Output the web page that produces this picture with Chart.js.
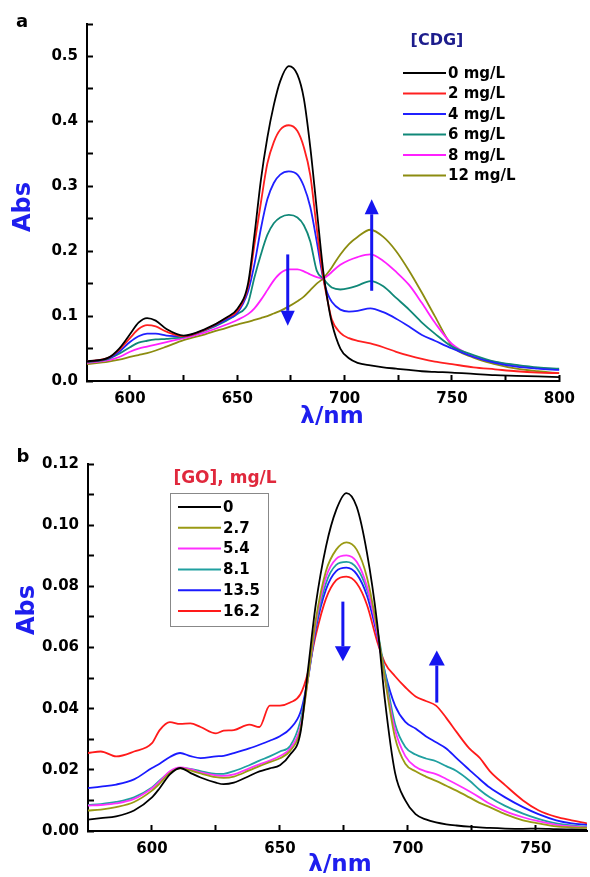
<!DOCTYPE html>
<html>
<head>
<meta charset="utf-8">
<script src="https://cdn.jsdelivr.net/npm/chart.js@4.4.0/dist/chart.umd.min.js"></script>
<style>
  body { margin: 0; background: #fff; }
  canvas { display: block; }
</style>
</head>
<body>
<canvas id="chartA" width="590" height="440"></canvas>
<canvas id="chartB" width="590" height="437"></canvas>
<script>
const FONT = '"DejaVu Sans", "Liberation Sans", sans-serif';

// ---- panel a : [CDG] series ----
const wavelengthsA = [580, 590, 595, 600, 604, 608, 612, 617, 625, 635, 645, 650, 655, 658, 661, 664, 667, 670, 674, 678,
  681, 684, 687, 690, 692, 694, 698, 702, 706, 712, 718, 724, 730, 736, 742, 750, 760, 770, 780, 790, 800];
const absA0 = [.030, .036, .050, .072, .090, .097, .093, .080, .070, .080, .098, .111, .150, .225, .310, .375, .425, .462, .485, .472,
  .435, .360, .265, .170, .125, .090, .050, .035, .028, .024, .021, .019, .017, .015, .014, .013, .011, .009, .008, .007, .006];
const absA2 = [.030, .036, .048, .066, .080, .086, .084, .076, .069, .079, .097, .108, .145, .210, .275, .335, .368, .387, .394, .385,
  .360, .317, .235, .160, .125, .095, .074, .066, .062, .058, .052, .045, .039, .034, .030, .026, .021, .018, .015, .013, .012];
const absA4 = [.030, .035, .045, .060, .069, .073, .073, .070, .069, .079, .095, .105, .138, .180, .235, .280, .305, .318, .323, .318,
  .300, .268, .215, .158, .135, .122, .110, .107, .108, .112, .106, .096, .084, .071, .062, .050, .037, .028, .022, .019, .017];
const absA6 = [.029, .034, .042, .052, .059, .062, .064, .065, .068, .078, .093, .103, .120, .160, .195, .225, .243, .252, .256, .252,
  .240, .215, .170, .158, .150, .144, .141, .143, .147, .154, .146, .128, .110, .090, .073, .053, .040, .030, .025, .021, .019];
const absA8 = [.028, .032, .037, .045, .050, .053, .056, .060, .066, .075, .087, .094, .103, .112, .125, .140, .155, .166, .172, .172,
  .169, .164, .160, .158, .162, .168, .179, .186, .191, .195, .185, .168, .148, .120, .090, .057, .038, .029, .024, .020, .018];
const absA12 = [.026, .030, .033, .037, .040, .043, .047, .053, .063, .072, .082, .087, .091, .094, .097, .100, .104, .108, .115, .123,
  .130, .140, .150, .158, .166, .175, .195, .211, .222, .233, .222, .200, .170, .136, .100, .054, .036, .026, .019, .015, .012];
const seriesLabelsA = ['0 mg/L', '2 mg/L', '4 mg/L', '6 mg/L', '8 mg/L', '12 mg/L'];
const xTicksA = [600, 625, 650, 675, 700, 725, 750, 775, 800];
const xTickLabelsA = ['600', '', '650', '', '700', '', '750', '', '800'];
const yTicksA = [0, 0.05, 0.1, 0.15, 0.2, 0.25, 0.3, 0.35, 0.4, 0.45, 0.5, 0.55];
const yTickLabelsA = ['0.0', '', '0.1', '', '0.2', '', '0.3', '', '0.4', '', '0.5', ''];

// ---- panel b : [GO] series ----
const wavelengthsB = [575, 580, 586, 593, 600, 603, 607, 611, 615, 619, 625, 628, 632, 638, 642, 646, 650, 654, 658, 661,
  664, 668, 672, 676, 680, 684, 688, 691, 695, 699, 703, 707, 711, 715, 719, 724, 728, 732, 738, 745, 751, 758, 764, 770];
const absB0 = [.0037, .0042, .0048, .0067, .0110, .0140, .0185, .0206, .0190, .0175, .0158, .0153, .0158, .0180, .0195, .0205, .0215, .0250, .0320, .0530,
  .0740, .0930, .1050, .1105, .1060, .0910, .0680, .0430, .0190, .0100, .0055, .0038, .0028, .0022, .0018, .0014, .0012, .0010, .0008, .0007, .0008, .0006, .0005, .0004];
const absB27 = [.0067, .0070, .0078, .0095, .0132, .0155, .0190, .0205, .0198, .0188, .0176, .0174, .0178, .0198, .0212, .0225, .0238, .0262, .0330, .0500,
  .0690, .0850, .0920, .0944, .0920, .0830, .0660, .0500, .0305, .0220, .0195, .0178, .0164, .0148, .0132, .0110, .0092, .0078, .0055, .0035, .0025, .0015, .0012, .0010];
const absB54 = [.0083, .0085, .0090, .0105, .0140, .0162, .0195, .0208, .0202, .0192, .0182, .0180, .0185, .0205, .0218, .0230, .0245, .0270, .0340, .0500,
  .0680, .0830, .0890, .0901, .0880, .0800, .0650, .0500, .0330, .0245, .0210, .0195, .0186, .0170, .0153, .0130, .0110, .0089, .0065, .0045, .0032, .0020, .0015, .0012];
const absB81 = [.0085, .0088, .0095, .0110, .0142, .0165, .0192, .0206, .0203, .0196, .0187, .0187, .0196, .0215, .0230, .0244, .0260, .0278, .0360, .0500,
  .0670, .0810, .0870, .0880, .0860, .0790, .0660, .0520, .0350, .0275, .0250, .0237, .0228, .0212, .0196, .0165, .0135, .0110, .0082, .0057, .0040, .0025, .0018, .0014];
const absB135 = [.0140, .0145, .0152, .0169, .0206, .0220, .0242, .0255, .0245, .0238, .0244, .0246, .0255, .0270, .0282, .0295, .0310, .0335, .0388, .0500,
  .0660, .0790, .0850, .0861, .0840, .0770, .0640, .0520, .0410, .0357, .0335, .0310, .0290, .0270, .0238, .0200, .0170, .0142, .0110, .0078, .0055, .0035, .0025, .0020];
const absB162 = [.0255, .0260, .0244, .0260, .0287, .0330, .0356, .0350, .0352, .0340, .0319, .0328, .0330, .0348, .0340, .0410, .0410, .0420, .0447, .0520,
  .0640, .0760, .0820, .0832, .0810, .0740, .0620, .0550, .0506, .0470, .0440, .0425, .0410, .0370, .0324, .0270, .0240, .0196, .0150, .0100, .0068, .0046, .0035, .0025];
const seriesLabelsB = ['0', '2.7', '5.4', '8.1', '13.5', '16.2'];
const xTicksB = [600, 625, 650, 675, 700, 725, 750];
const xTickLabelsB = ['600', '', '650', '', '700', '', '750'];
const yTicksB = [0, 0.01, 0.02, 0.03, 0.04, 0.05, 0.06, 0.07, 0.08, 0.09, 0.1, 0.11, 0.12];
const yTickLabelsB = ['0.00', '', '0.02', '', '0.04', '', '0.06', '', '0.08', '', '0.10', '', '0.12'];

// arrows in data units (wavelength, from abs, to abs)
const arrowsA = [{ x: 673.5, from: 0.195, to: 0.085 }, { x: 712.6, from: 0.139, to: 0.28 }];
const arrowsB = [{ x: 674.6, from: 0.075, to: 0.0555 }, { x: 711.3, from: 0.042, to: 0.059 }];

function makeSet(label, xs, ys, color) {
  return {
    label: label,
    data: xs.map((x, i) => ({ x: x, y: ys[i] })),
    borderColor: color,
    backgroundColor: color,
    borderWidth: 1.8,
    pointRadius: 0,
    cubicInterpolationMode: 'monotone',
    fill: false
  };
}

function axisOptions(pos, min, max, ticks, labels, size) {
  return {
    type: 'linear',
    position: pos,
    min: min,
    max: max,
    border: { color: '#000', width: 2 },
    grid: { drawOnChartArea: false, drawTicks: true, tickLength: -6, tickWidth: 2, tickColor: '#000' },
    ticks: {
      autoSkip: false, maxRotation: 0, padding: 15, color: '#000',
      font: { family: FONT, size: 15, weight: 'bold' },
      callback: (v, i) => labels[i]
    },
    afterBuildTicks: s => { s.ticks = ticks.map(v => ({ value: v })); },
    afterFit: s => { if (pos === 'left') s.width = size; else s.height = size; }
  };
}

// draws panel letter, axis titles, legend and arrows
const extras = {
  id: 'extras',
  afterDraw(chart, args, o) {
    const ctx = chart.ctx;
    const xs = chart.scales.x, ys = chart.scales.y;
    ctx.save();
    ctx.textBaseline = 'middle';

    ctx.fillStyle = '#000';
    ctx.font = 'bold 18px ' + FONT;
    ctx.textAlign = 'center';
    ctx.fillText(o.panel.text, o.panel.x, o.panel.y);

    ctx.fillStyle = '#1e1eee';
    ctx.font = 'bold 23px ' + FONT;
    ctx.fillText('λ/nm', o.xTitle.x, o.xTitle.y);
    ctx.save();
    ctx.translate(o.yTitle.x, o.yTitle.y);
    ctx.rotate(-Math.PI / 2);
    ctx.font = 'bold 24px ' + FONT;
    ctx.fillText('Abs', 0, 0);
    ctx.restore();

    const lg = o.legend;
    if (lg.box) {
      ctx.fillStyle = '#fff';
      ctx.fillRect(lg.box.x, lg.box.y, lg.box.w, lg.box.h);
      ctx.strokeStyle = '#888';
      ctx.lineWidth = 1;
      ctx.strokeRect(lg.box.x + 0.5, lg.box.y + 0.5, lg.box.w, lg.box.h);
    }
    ctx.fillStyle = lg.titleColor;
    ctx.font = 'bold ' + lg.titleSize + 'px ' + FONT;
    ctx.textAlign = 'center';
    ctx.fillText(lg.title, lg.titleX, lg.titleY);
    ctx.font = 'bold 15px ' + FONT;
    ctx.textAlign = 'left';
    chart.data.datasets.forEach((d, i) => {
      const y = lg.y0 + i * lg.dy;
      ctx.strokeStyle = d.borderColor;
      ctx.lineWidth = 2;
      ctx.beginPath();
      ctx.moveTo(lg.x0, y);
      ctx.lineTo(lg.x1, y);
      ctx.stroke();
      ctx.fillStyle = '#000';
      ctx.fillText(d.label, lg.x1 + 2, y + 1);
    });

    ctx.fillStyle = '#1515f0';
    ctx.strokeStyle = '#1515f0';
    o.arrows.forEach(a => {
      const px = xs.getPixelForValue(a.x);
      const y0 = ys.getPixelForValue(a.from);
      const y1 = ys.getPixelForValue(a.to);
      const dir = y1 > y0 ? 1 : -1;
      const head = o.head;
      ctx.lineWidth = 3;
      ctx.beginPath();
      ctx.moveTo(px, y0);
      ctx.lineTo(px, y1 - dir * head.len);
      ctx.stroke();
      ctx.beginPath();
      ctx.moveTo(px, y1);
      ctx.lineTo(px - head.w / 2, y1 - dir * head.len);
      ctx.lineTo(px + head.w / 2, y1 - dir * head.len);
      ctx.closePath();
      ctx.fill();
    });
    ctx.restore();
  }
};

new Chart(document.getElementById('chartA'), {
  type: 'line',
  data: {
    datasets: [
      makeSet(seriesLabelsA[0], wavelengthsA, absA0, '#000000'),
      makeSet(seriesLabelsA[1], wavelengthsA, absA2, '#ff2020'),
      makeSet(seriesLabelsA[2], wavelengthsA, absA4, '#2020ff'),
      makeSet(seriesLabelsA[3], wavelengthsA, absA6, '#108878'),
      makeSet(seriesLabelsA[4], wavelengthsA, absA8, '#ff20ff'),
      makeSet(seriesLabelsA[5], wavelengthsA, absA12, '#8c8c10')
    ]
  },
  options: {
    responsive: false,
    animation: false,
    devicePixelRatio: 1,
    layout: { padding: { top: 20, right: 17, left: 0, bottom: 0 } },
    scales: {
      x: axisOptions('bottom', 580, 800, xTicksA, xTickLabelsA, 59),
      y: axisOptions('left', 0, 0.55, yTicksA, yTickLabelsA, 87)
    },
    plugins: {
      legend: { display: false },
      tooltip: { enabled: false },
      extras: {
        panel: { text: 'a', x: 22, y: 22 },
        xTitle: { x: 332, y: 417 },
        yTitle: { x: 24, y: 207 },
        legend: { title: '[CDG]', titleColor: '#1c1c8c', titleSize: 16, titleX: 437, titleY: 41, x0: 403, x1: 446, y0: 73, dy: 20.5 },
        arrows: arrowsA,
        head: { w: 14, len: 15 }
      }
    }
  },
  plugins: [extras]
});

new Chart(document.getElementById('chartB'), {
  type: 'line',
  data: {
    datasets: [
      makeSet(seriesLabelsB[0], wavelengthsB, absB0, '#000000'),
      makeSet(seriesLabelsB[1], wavelengthsB, absB27, '#9a9a14'),
      makeSet(seriesLabelsB[2], wavelengthsB, absB54, '#ff30ff'),
      makeSet(seriesLabelsB[3], wavelengthsB, absB81, '#20a0a0'),
      makeSet(seriesLabelsB[4], wavelengthsB, absB135, '#1a1aff'),
      makeSet(seriesLabelsB[5], wavelengthsB, absB162, '#ff1a1a')
    ]
  },
  options: {
    responsive: false,
    animation: false,
    devicePixelRatio: 1,
    layout: { padding: { top: 17, right: 3, left: 0, bottom: 0 } },
    scales: {
      x: axisOptions('bottom', 575, 770, xTicksB, xTickLabelsB, 46),
      y: axisOptions('left', 0, 0.12, yTicksB, yTickLabelsB, 88)
    },
    plugins: {
      legend: { display: false },
      tooltip: { enabled: false },
      extras: {
        panel: { text: 'b', x: 23, y: 17 },
        xTitle: { x: 340, y: 425 },
        yTitle: { x: 28, y: 170 },
        legend: { title: '[GO], mg/L', titleColor: '#e0283c', titleSize: 17, titleX: 225, titleY: 39,
          box: { x: 170, y: 53, w: 98, h: 133 }, x0: 178, x1: 221, y0: 67, dy: 20.8 },
        arrows: arrowsB,
        head: { w: 16, len: 15 }
      }
    }
  },
  plugins: [extras]
});
</script>
</body>
</html>
